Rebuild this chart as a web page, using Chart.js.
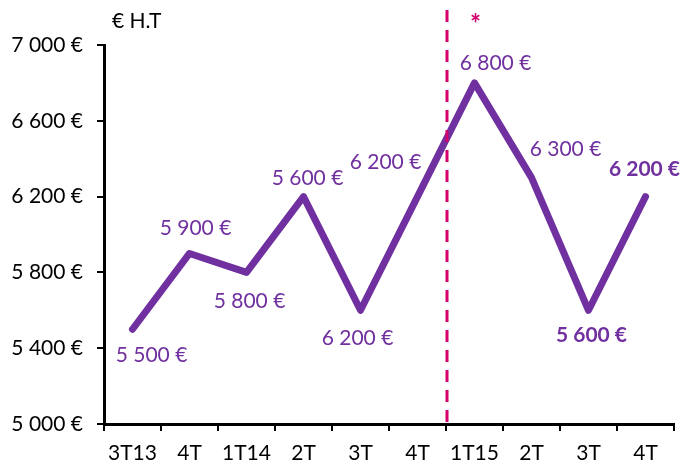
<!DOCTYPE html>
<html><head><meta charset="utf-8">
<script src="https://cdn.jsdelivr.net/npm/chart.js@4/dist/chart.umd.min.js"></script>
<style>html,body{margin:0;padding:0;background:#fff}#wrap{width:684px;height:465px}</style>
</head><body><div id="wrap"><canvas id="c" width="684" height="465"></canvas></div>
<script>
const categories = ['3T13','4T','1T14','2T','3T','4T','1T15','2T','3T','4T'];
const values = [5500, 5900, 5800, 6200, 5600, 6200, 6800, 6300, 5600, 6200];
const pointLabels = ['5 500 €','5 900 €','5 800 €','5 600 €','6 200 €','6 200 €','6 800 €','6 300 €','5 600 €','6 200 €'];
const boldLabels = [false,false,false,false,false,false,false,false,true,true];
const yTicks = [5000, 5400, 5800, 6200, 6600, 7000];
const unitTitle = '€ H.T';
const FONT = 'Lato, "Open Sans", sans-serif';
const PURPLE = '#7030A0';
const MAGENTA = '#D4006C';

function fmt(v){ return String(v).replace(/\B(?=(\d{3})+(?!\d))/g,' ') + ' €'; }

const labelOffsets = [[19,26],[6,-25],[3,29],[4,-18],[-3,28],[-32,-34],[21,-20],[34,-28],[3,25],[-1,-27]];

const overlay = {
  id:'overlay',
  afterDatasetsDraw(chart){
    const ctx = chart.ctx, x = chart.scales.x, y = chart.scales.y;
    ctx.save();
    const sx = (x.getPixelForValue(5) + x.getPixelForValue(6))/2 + 1;
    ctx.strokeStyle = MAGENTA; ctx.lineWidth = 3; ctx.setLineDash([12,8]);
    ctx.beginPath(); ctx.moveTo(sx, 10); ctx.lineTo(sx, y.bottom); ctx.stroke();
    ctx.setLineDash([]);
    ctx.fillStyle = MAGENTA; ctx.font = 'bold 26px ' + FONT; ctx.textAlign='center'; ctx.textBaseline='middle';
    ctx.fillText('*', x.getPixelForValue(6) + 1, 25);
    ctx.fillStyle = PURPLE; ctx.textBaseline='middle'; ctx.textAlign='center';
    values.forEach((v,i)=>{
      ctx.font = (boldLabels[i] ? 'bold ' : '') + '21px ' + FONT;
      ctx.fillText(pointLabels[i], x.getPixelForValue(i) + labelOffsets[i][0], y.getPixelForValue(v) + labelOffsets[i][1]);
    });
    ctx.fillStyle = '#000'; ctx.textAlign='left'; ctx.font = '21px ' + FONT;
    ctx.fillText(unitTitle, 112, 21);
    ctx.restore();
  }
};

new Chart(document.getElementById('c'), {
  type:'line',
  data:{ labels:categories, datasets:[{ data:values, borderColor:PURPLE, borderWidth:7, pointRadius:0, tension:0, borderCapStyle:'round', borderJoinStyle:'round', fill:false }]},
  options:{
    responsive:false, animation:false,
    layout:{ padding:{ top:45, right:10, left:1, bottom:0 } },
    plugins:{ legend:{display:false}, tooltip:{enabled:false} },
    scales:{
      x:{ offset:true,
        grid:{ display:true, drawOnChartArea:false, offset:true, color:'#000', lineWidth:2, tickLength:7, tickColor:'#000' },
        border:{ display:true, color:'#000', width:3 },
        ticks:{ color:'#000', font:{ family:FONT, size:21 }, maxRotation:0, autoSkip:false, padding:10 },
        afterFit(s){ s.height = 41; }
      },
      y:{ min:5000, max:7000,
        afterBuildTicks(s){ s.ticks = yTicks.map(v=>({value:v})); },
        grid:{ display:true, drawOnChartArea:false, color:'#000', lineWidth:2, tickLength:7, tickColor:'#000' },
        border:{ display:true, color:'#000', width:3 },
        ticks:{ color:'#000', font:{ family:FONT, size:21 }, padding:14, callback:(v)=>fmt(v) },
        afterFit(s){ s.width = 103; }
      }
    }
  },
  plugins:[overlay]
});
</script></body></html>
